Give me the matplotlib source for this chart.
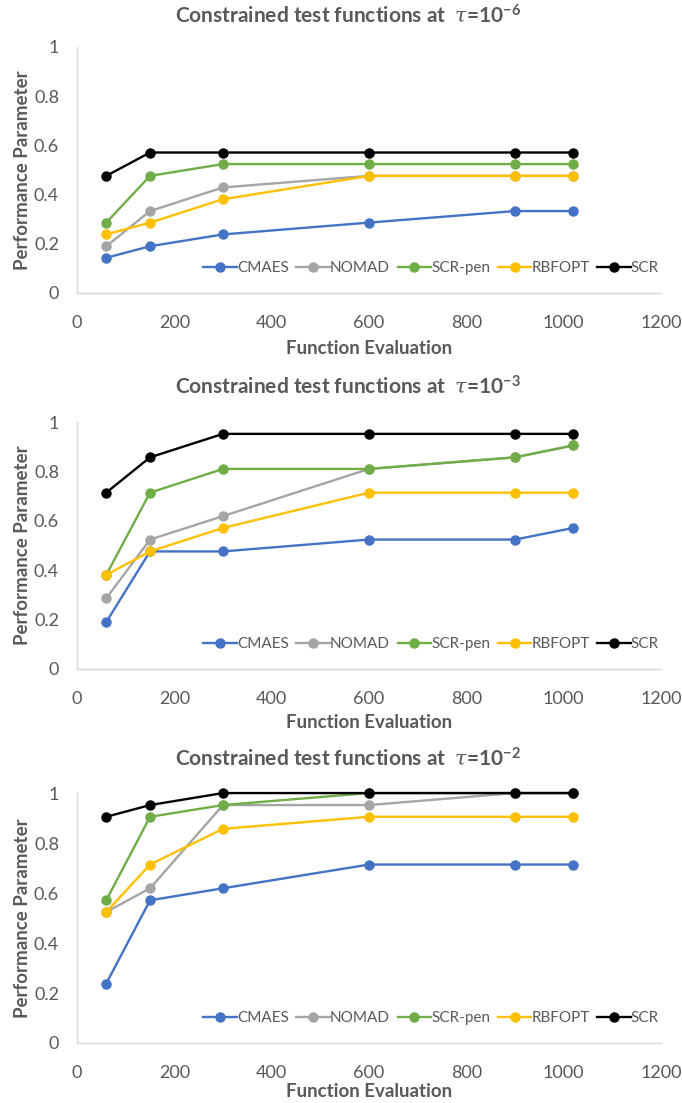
import matplotlib
matplotlib.use("Agg")
import matplotlib.pyplot as plt

plt.rcParams['font.family'] = ['Lato', 'DejaVu Sans']
plt.rcParams['mathtext.fontset'] = 'custom'
plt.rcParams['mathtext.rm'] = 'Lato'
plt.rcParams['mathtext.it'] = 'DejaVu Serif:italic'
plt.rcParams['mathtext.bf'] = 'Lato:bold'

# data
evals = [60, 150, 300, 600, 900, 1020]
methods = ["CMAES", "NOMAD", "SCR-pen", "RBFOPT", "SCR"]
colors = ["#4472C4", "#A5A5A5", "#70AD47", "#FFC000", "#000000"]
tau_exp = ["-6", "-3", "-2"]

tau6 = {
    "CMAES":   [0.143, 0.190, 0.238, 0.286, 0.333, 0.333],
    "NOMAD":   [0.190, 0.333, 0.429, 0.476, 0.476, 0.476],
    "SCR-pen": [0.286, 0.476, 0.524, 0.524, 0.524, 0.524],
    "RBFOPT":  [0.238, 0.286, 0.381, 0.476, 0.476, 0.476],
    "SCR":     [0.476, 0.571, 0.571, 0.571, 0.571, 0.571],
}
tau3 = {
    "CMAES":   [0.190, 0.476, 0.476, 0.524, 0.524, 0.571],
    "NOMAD":   [0.286, 0.524, 0.619, 0.810, 0.857, 0.905],
    "SCR-pen": [0.381, 0.714, 0.810, 0.810, 0.857, 0.905],
    "RBFOPT":  [0.381, 0.476, 0.571, 0.714, 0.714, 0.714],
    "SCR":     [0.714, 0.857, 0.952, 0.952, 0.952, 0.952],
}
tau2 = {
    "CMAES":   [0.238, 0.571, 0.619, 0.714, 0.714, 0.714],
    "NOMAD":   [0.524, 0.619, 0.952, 0.952, 1.000, 1.000],
    "SCR-pen": [0.571, 0.905, 0.952, 1.000, 1.000, 1.000],
    "RBFOPT":  [0.524, 0.714, 0.857, 0.905, 0.905, 0.905],
    "SCR":     [0.905, 0.952, 1.000, 1.000, 1.000, 1.000],
}
panels = [tau6, tau3, tau2]

TXT = "#595959"
fig = plt.figure(figsize=(6.82, 11.03), dpi=100)

bottoms = [0.7344, 0.3935, 0.0544]
tops = [0.9574, 0.6174, 0.2810]
title_y = [15, 386, 758]
xlab_pad = [6, 5, 1]

for i, data in enumerate(panels):
    ax = fig.add_axes([0.113, bottoms[i], 0.856, tops[i] - bottoms[i]])
    for m, c in zip(methods, colors):
        ax.plot(evals, data[m], color=c, lw=1.7, marker="o", ms=6.5, label=m,
                clip_on=False)
    ax.set_xlim(0, 1200)
    ax.set_ylim(0, 1)
    ax.set_xticks(range(0, 1201, 200))
    ax.set_yticks([0, 0.2, 0.4, 0.6, 0.8, 1])
    ax.set_yticklabels(["0", "0.2", "0.4", "0.6", "0.8", "1"])
    ax.tick_params(length=0, labelsize=13, labelcolor=TXT)
    ax.tick_params(axis="x", pad=16)
    ax.tick_params(axis="y", pad=13)
    for s in ["top", "right"]:
        ax.spines[s].set_visible(False)
    for s in ["left", "bottom"]:
        ax.spines[s].set_color("#D9D9D9")
        ax.spines[s].set_linewidth(1.0)
    ax.set_xlabel("Function Evaluation", fontsize=13.5, fontweight="bold",
                  color=TXT, labelpad=xlab_pad[i])
    ax.set_ylabel("Performance Parameter", fontsize=13.5, fontweight="bold",
                  color=TXT, labelpad=2)
    leg = ax.legend(loc="lower right", bbox_to_anchor=(1.01, 0.04), ncol=5,
                    frameon=False, fontsize=11, handlelength=2.2,
                    handletextpad=0.0, columnspacing=0.5, borderpad=0)
    for t in leg.get_texts():
        t.set_color(TXT)
    fig.text(0.51, 1 - title_y[i] / 1103,
             "Constrained test functions at  " + r"$\tau$" + "=10" +
             r"$^{\mathbf{" + tau_exp[i] + "}}$",
             ha="center", va="center", fontsize=15, fontweight="bold",
             color=TXT)

fig.savefig("out.png", dpi=100)
